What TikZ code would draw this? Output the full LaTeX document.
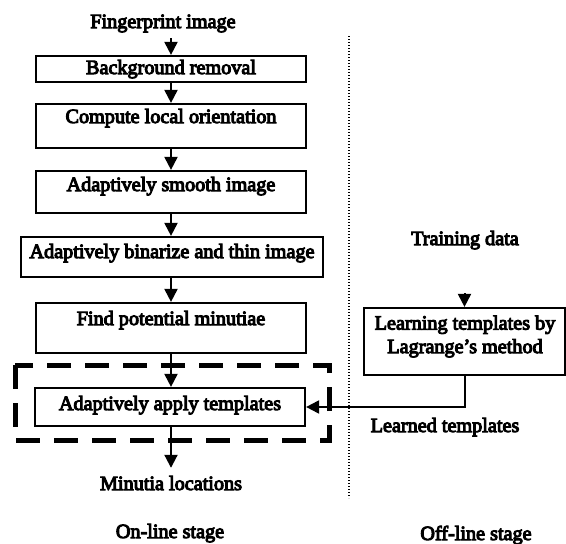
\documentclass[tikz,border=0pt]{standalone}
\usepackage{fontspec}
\setmainfont{Liberation Serif}[FakeBold=5]
\usetikzlibrary{arrows.meta}
\begin{document}
\begin{tikzpicture}[x=1pt,y=-1pt,
  font=\fontsize{20.2}{23.5}\selectfont,
  box/.style={draw, line width=2.2pt, inner sep=0pt, text height=14pt, text depth=4pt},
  lbl/.style={inner sep=0pt, text height=14pt, text depth=4pt},
  arr/.style={line width=2pt, -{Triangle[length=13pt,width=13pt]}},
  dashbox/.style={line width=5pt, dash pattern=on 24pt off 14pt},
  sep/.style={line width=2pt, dash pattern=on 1.4pt off 1.6pt}]
\useasboundingbox (0,0) rectangle (566,544);
% left column
\node[lbl] (fp) at (163,23) {Fingerprint image};
\node[box, minimum width=270pt, minimum height=26pt] (b1) at (171,69) {Background removal};
\node[box, minimum width=270pt, minimum height=44pt, text depth=20pt] (b2) at (171,126) {Compute local orientation};
\node[box, minimum width=270pt, minimum height=42pt, text depth=16pt] (b3) at (171,192) {Adaptively smooth image};
\node[box, minimum width=302pt, minimum height=40pt, text depth=12pt] (b4) at (172,257) {Adaptively binarize and thin image};
\node[box, minimum width=270pt, minimum height=50pt, text depth=20pt] (b5) at (171,328) {Find potential minutiae};
\node[box, minimum width=270pt, minimum height=38pt, text depth=8pt] (b6) at (170,407) {Adaptively apply templates};
\node[lbl] (ml) at (171,485) {Minutia locations};
\node[lbl] (on) at (170,533) {On-line stage};
% right column
\node[lbl] (td) at (465,240) {Training data};
\node[draw, line width=2.2pt, minimum width=201pt, minimum height=67pt] (lb) at (464.5,341.5) {};
\node[align=center, inner sep=0pt] (lbt) at (465,336.5) {Learning templates by\\Lagrange's method};
\node[lbl] (lt) at (445,427) {Learned templates};
\node[lbl] (off) at (476,535) {Off-line stage};
% connectors
\draw[arr, shorten <=6pt] (fp.south -| b1.north) -- (b1.north);
\draw[arr] (b1.south) -- (b1.south |- b2.north);
\draw[arr] (b2.south) -- (b2.south |- b3.north);
\draw[arr] (b3.south) -- (b3.south |- b4.north);
\draw[arr] (b3.south |- b4.south) -- (b3.south |- b5.north);
\draw[arr] (b5.south) -- (b5.south |- b6.north);
\draw[arr, shorten >=8pt] (b6.south -| b5.south) -- (b5.south |- ml.north);
\draw[arr, shorten <=44pt] (td.south -| lb.north) -- (lb.north);
\draw[arr] (lb.south) |- (b6.east);
% dashed frame and separator
\draw[dashbox] (15,365) rectangle (329,440);
\draw[sep] (349,36) -- (349,498);
\end{tikzpicture}
\end{document}
